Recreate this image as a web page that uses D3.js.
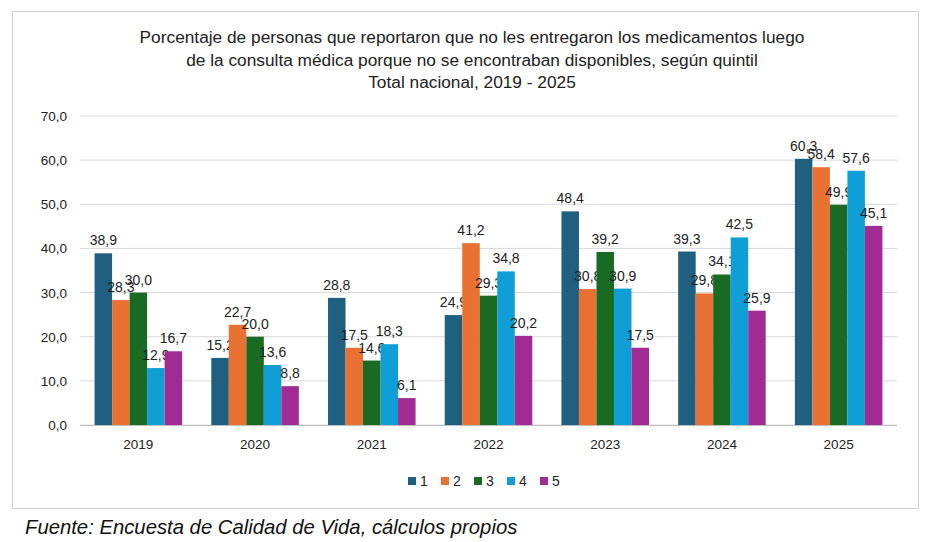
<!DOCTYPE html>
<html><head><meta charset="utf-8">
<script src="https://cdn.jsdelivr.net/npm/d3@7"></script>
<style>body{margin:0;background:#fff;font-family:"Liberation Sans",Arial,sans-serif}</style>
</head><body><svg id="c" width="934" height="542"></svg>
<script>
const years=["2019","2020","2021","2022","2023","2024","2025"];
const seriesNames=["1","2","3","4","5"];
const q1=[38.9,15.2,28.8,24.9,48.4,39.3,60.3];
const q2=[28.3,22.7,17.5,41.2,30.8,29.8,58.4];
const q3=[30.0,20.0,14.6,29.3,39.2,34.1,49.9];
const q4=[12.9,13.6,18.3,34.8,30.9,42.5,57.6];
const q5=[16.7,8.8,6.1,20.2,17.5,25.9,45.1];
const yTicks=[0,10,20,30,40,50,60,70];
const colors=["#1f5f80","#e97132","#196b24","#0f9ed5","#a02b93"];
const series=[q1,q2,q3,q4,q5];
const svg=d3.select("#c");
svg.append("rect").attr("x",12.5).attr("y",11.5).attr("width",906).attr("height",497).attr("fill","#fff").attr("stroke","#d0d0d0");
const titles=["Porcentaje de personas que reportaron que no les entregaron los medicamentos luego","de la consulta médica porque no se encontraban disponibles, según quintil","Total nacional, 2019 - 2025"];
titles.forEach((t,i)=>svg.append("text").attr("x",472).attr("y",43+i*22.5).attr("text-anchor","middle").attr("font-size",17.3).attr("fill","#222").text(t));
const y=d3.scaleLinear().domain([0,70]).range([425,116]);
const x0=d3.scaleBand().domain(years).range([80,897]).paddingInner(0.25).paddingOuter(0.125);
const x1=d3.scaleBand().domain(seriesNames).range([0,x0.bandwidth()]);
const fmt=v=>d3.format(".1f")(v).replace(".",",");
svg.append("g").selectAll("line").data(yTicks).join("line").attr("x1",80).attr("x2",897).attr("y1",d=>y(d)).attr("y2",d=>y(d)).attr("stroke","#d9d9d9");
svg.append("g").selectAll("text").data(yTicks).join("text").attr("x",67).attr("y",d=>y(d)+5).attr("text-anchor","end").attr("font-size",13.5).attr("fill","#222").text(fmt);
series.forEach((s,si)=>{
  const g=svg.append("g");
  g.selectAll("rect").data(s).join("rect").attr("x",(d,i)=>x0(years[i])+x1(seriesNames[si])).attr("width",x1.bandwidth()).attr("y",d=>y(d)).attr("height",d=>y(0)-y(d)).attr("fill",colors[si]);
  g.selectAll("text").data(s).join("text").attr("x",(d,i)=>x0(years[i])+x1(seriesNames[si])+x1.bandwidth()/2).attr("y",d=>y(d)-8).attr("text-anchor","middle").attr("font-size",14).attr("fill","#222").text(fmt);
});
svg.append("line").attr("x1",80).attr("x2",897).attr("y1",425.5).attr("y2",425.5).attr("stroke","#bfbfbf");
svg.append("g").selectAll("text").data(years).join("text").attr("x",d=>x0(d)+x0.bandwidth()/2).attr("y",449).attr("text-anchor","middle").attr("font-size",13.5).attr("fill","#222").text(d=>d);
const lg=svg.append("g");
seriesNames.forEach((n,i)=>{
  const lx=408+i*33;
  lg.append("rect").attr("x",lx).attr("y",477).attr("width",8).attr("height",8).attr("fill",colors[i]);
  lg.append("text").attr("x",lx+12).attr("y",486).attr("font-size",14).attr("fill","#222").text(n);
});
svg.append("text").attr("x",25).attr("y",534).attr("font-size",20.3).attr("font-style","italic").attr("fill","#111").text("Fuente: Encuesta de Calidad de Vida, cálculos propios");
</script></body></html>
